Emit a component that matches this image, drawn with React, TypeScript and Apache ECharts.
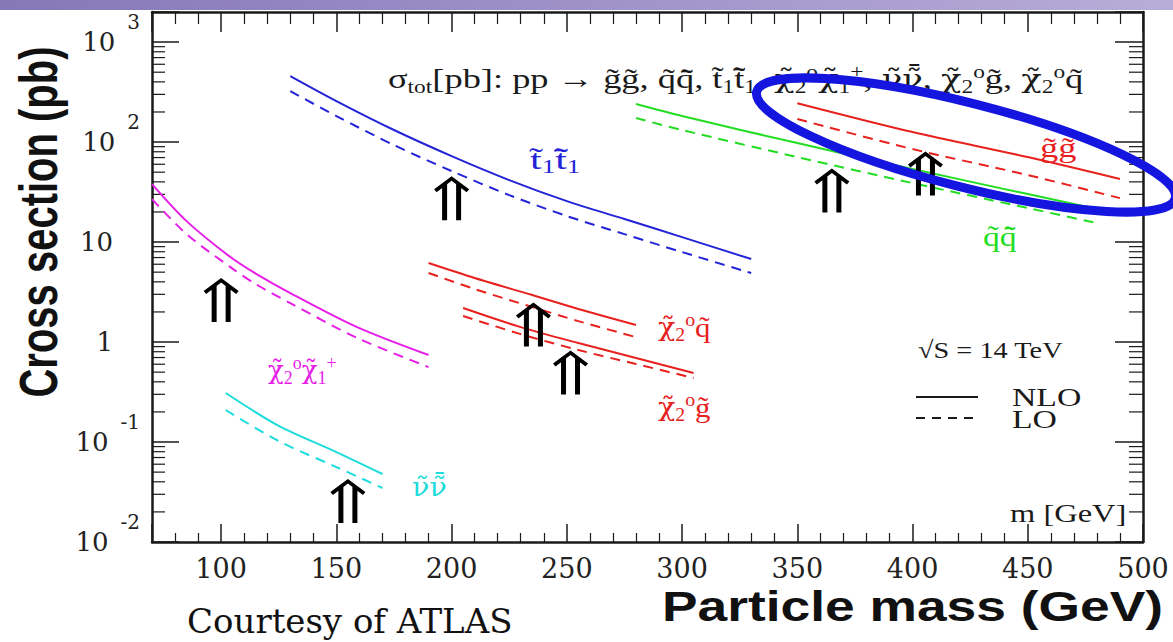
import React, { useEffect, useRef } from "react";
import * as echarts from "echarts";

// ---- axis ranges ----
const X_MIN = 70;
const X_MAX = 500;
const Y_MIN = 0.01;
const Y_MAX = 2000;

// ---- curves (mass in GeV, cross section in pb) ----
const stopMass = [130, 150, 175, 200, 225, 250, 275, 300, 330];
const stopNLO = [457, 257, 132, 72.4, 41.7, 25.7, 17.0, 11.2, 6.76];
const stopLO = [324, 182, 93.3, 51.3, 29.5, 18.2, 12.0, 7.94, 4.9];

const sqMass = [280, 300, 350, 400, 450, 480];
const sqNLO = [240, 182, 97.7, 53.7, 30.2, 21.4];
const sqLO = [174, 132, 70.8, 38.9, 21.9, 15.5];

const glMass = [350, 400, 450, 490];
const glNLO = [245, 126, 70.8, 42.7];
const glLO = [170, 85.1, 46.8, 27.5];

const c2c1Mass = [70, 85, 104, 115, 130, 159, 190];
const c2c1NLO = [38.0, 16.2, 7.08, 4.84, 3.09, 1.41, 0.741];
const c2c1LO = [26.9, 12.0, 5.62, 3.8, 2.45, 1.1, 0.562];

const snuMass = [102, 125, 150, 170];
const snuNLO = [0.309, 0.145, 0.0794, 0.0479];
const snuLO = [0.209, 0.102, 0.0562, 0.0347];

const c2sqMass = [190, 210, 235, 255, 280];
const c2sqNLO = [6.17, 4.37, 2.95, 2.14, 1.48];
const c2sqLO = [4.9, 3.39, 2.24, 1.62, 1.12];

const c2glMass = [205, 230, 255, 280, 305];
const c2glNLO = [2.19, 1.41, 0.977, 0.692, 0.49];
const c2glLO = [1.82, 1.2, 0.832, 0.603, 0.437];

// ---- mass-limit arrows ----
const arrowMass = [100, 200, 235.5, 251.6, 155, 365, 405.6];
const arrowValue = [2.63, 27.5, 1.5, 0.495, 0.0257, 32.7, 48.4];

// ---- log minor ticks ----
const minorDecades = [0.01, 0.1, 1, 10, 100];
const minorMultipliers = [2, 3, 4, 5, 6, 7, 8, 9];

const BLUE = "#2323d8";
const RED = "#e8201e";
const GREEN = "#22dd22";
const MAGENTA = "#e81ee8";
const CYAN = "#1edcdc";
const INK = "#1a1a1a";

const SERIF = "'Liberation Serif', 'DejaVu Serif', serif";
const DSERIF = "'DejaVu Serif', serif";

const ARROW_PATH =
  "path://M17.5 0 L35 13 L32.5 16 L17.5 4.5 L2.5 16 L0 13 Z M8 9 L13 5.5 L13 44 L8 44 Z M22 5.5 L27 9 L27 44 L22 44 Z";

function zip(xs: number[], ys: number[]) {
  return xs.map((x, i) => [x, ys[i]]);
}

function rt(parts: [string, string][]) {
  return parts.map(([k, t]) => `{${k}|${t}}`).join("");
}

function richSet(size: number) {
  const s = Math.round(size * 0.64);
  const pad = Math.round(size * 0.55);
  return {
    n: { fontSize: size, fontFamily: SERIF },
    g: { fontSize: Math.round(size * 0.92), fontFamily: DSERIF },
    sub: { fontSize: s, fontFamily: SERIF, padding: [pad, 0, 0, 0] },
    sup: { fontSize: s, fontFamily: SERIF, padding: [0, 0, pad, 0] },
  };
}

function label(
  text: string,
  x: number,
  y: number,
  color: string,
  size = 28,
  scaleX = 1.3
) {
  return {
    type: "text",
    x,
    y,
    scaleX,
    z: 20,
    style: {
      text,
      fill: color,
      fontSize: size,
      fontFamily: SERIF,
      textAlign: "left",
      textVerticalAlign: "middle",
      rich: richSet(size),
    },
  };
}

function curvePair(mass: number[], nlo: number[], lo: number[], color: string) {
  return [
    {
      type: "line",
      data: zip(mass, nlo),
      smooth: 0.3,
      showSymbol: false,
      lineStyle: { color, width: 2 },
      z: 5,
    },
    {
      type: "line",
      data: zip(mass, lo),
      smooth: 0.3,
      showSymbol: false,
      lineStyle: { color, width: 2, type: [10, 7] },
      z: 5,
    },
  ];
}

export default function App() {
  const ref = useRef<HTMLDivElement>(null);

  useEffect(() => {
    if (!ref.current) return;
    const chart = echarts.init(ref.current, null, { renderer: "svg" });

    const minorY: number[][] = [];
    minorDecades.forEach((d) =>
      minorMultipliers.forEach((m) => minorY.push([X_MIN, +(d * m).toPrecision(3)]))
    );

    const yFormatter = (v: number) => {
      const l = Math.log10(v);
      const e = Math.round(l);
      if (Math.abs(l - e) > 1e-6) return "";
      if (e === 1) return "{b|10}{p| }";
      if (e === 0) return "{b|1}{p| }";
      return `{b|10}{e|${e}}`;
    };

    const xAxisBase = {
      type: "value",
      min: X_MIN,
      max: X_MAX,
      splitNumber: 9,
      splitLine: { show: false },
      axisLine: { show: true, lineStyle: { color: INK, width: 2.5 } },
    };
    const yAxisBase = {
      type: "log",
      logBase: 10,
      min: Y_MIN,
      max: Y_MAX,
      splitLine: { show: false },
      axisLine: { show: true, lineStyle: { color: INK, width: 2.5 } },
    };

    const titleText = rt([
      ["n", "σ"],
      ["sub", "tot"],
      ["n", "[pb]: pp → g̃g̃, q̃q̃̄, t̃"],
      ["sub", "1"],
      ["n", "t̃̄"],
      ["sub", "1"],
      ["n", ", "],
      ["g", "χ̃"],
      ["sub", "2"],
      ["sup", "o"],
      ["g", "χ̃"],
      ["sub", "1"],
      ["sup", "+"],
      ["n", ", "],
      ["g", "ν̃ν̃̄"],
      ["n", ", "],
      ["g", "χ̃"],
      ["sub", "2"],
      ["sup", "o"],
      ["n", "g̃, "],
      ["g", "χ̃"],
      ["sub", "2"],
      ["sup", "o"],
      ["n", "q̃"],
    ]);

    const option: any = {
      animation: false,
      backgroundColor: "#ffffff",
      grid: { left: 152, right: 30, top: 12, bottom: 100, containLabel: false },
      xAxis: [
        {
          ...xAxisBase,
          position: "bottom",
          axisTick: { show: true, inside: true, length: 18, lineStyle: { color: INK, width: 1.5 } },
          minorTick: { show: true, splitNumber: 5, length: 9, lineStyle: { color: INK, width: 1.2 } },
          axisLabel: {
            show: true,
            margin: 13,
            fontSize: 27,
            fontFamily: DSERIF,
            color: "#222",
            showMinLabel: false,
          },
        },
        {
          ...xAxisBase,
          position: "top",
          axisTick: { show: true, inside: true, length: 20, lineStyle: { color: INK, width: 1.5 } },
          minorTick: { show: true, splitNumber: 5, length: 12, lineStyle: { color: INK, width: 1.2 } },
          axisLabel: { show: false },
        },
      ],
      yAxis: [
        {
          ...yAxisBase,
          position: "left",
          axisTick: { show: true, inside: true, length: 27, lineStyle: { color: INK, width: 1.5 } },
          axisLabel: {
            show: true,
            margin: 12,
            formatter: yFormatter,
            color: "#222",
            rich: {
              b: { fontSize: 26, fontFamily: DSERIF, color: "#222" },
              e: { fontSize: 20, fontFamily: DSERIF, color: "#222", padding: [0, 0, 40, 12] },
              p: { fontSize: 20, width: 27 },
            },
          },
        },
        {
          ...yAxisBase,
          position: "right",
          axisTick: { show: true, inside: true, length: 28, lineStyle: { color: INK, width: 1.5 } },
          axisLabel: { show: false },
        },
      ],
      series: [
        ...curvePair(stopMass, stopNLO, stopLO, BLUE),
        ...curvePair(sqMass, sqNLO, sqLO, GREEN),
        ...curvePair(glMass, glNLO, glLO, RED),
        ...curvePair(c2c1Mass, c2c1NLO, c2c1LO, MAGENTA),
        ...curvePair(snuMass, snuNLO, snuLO, CYAN),
        ...curvePair(c2sqMass, c2sqNLO, c2sqLO, RED),
        ...curvePair(c2glMass, c2glNLO, c2glLO, RED),
        {
          type: "scatter",
          data: zip(arrowMass, arrowValue),
          symbol: ARROW_PATH,
          symbolSize: [35, 44],
          symbolKeepAspect: false,
          itemStyle: { color: "#000", opacity: 1 },
          z: 8,
        },
        {
          type: "custom",
          data: minorY,
          clip: false,
          z: 3,
          renderItem: (_p: any, api: any) => {
            const v = api.value(1);
            const l = api.coord([X_MIN, v]);
            const r = api.coord([X_MAX, v]);
            return {
              type: "group",
              children: [
                {
                  type: "line",
                  shape: { x1: l[0], y1: l[1], x2: l[0] + 13, y2: l[1] },
                  style: { stroke: INK, lineWidth: 1.2 },
                },
                {
                  type: "line",
                  shape: { x1: r[0] - 14, y1: r[1], x2: r[0], y2: r[1] },
                  style: { stroke: INK, lineWidth: 1.2 },
                },
              ],
            };
          },
        },
      ],
      graphic: [
        {
          type: "rect",
          shape: { x: 0, y: 0, width: 1173, height: 10 },
          style: {
            fill: new echarts.graphic.LinearGradient(0, 0, 1, 0, [
              { offset: 0, color: "#8677b8" },
              { offset: 1, color: "#b8acd8" },
            ]),
          },
          z: 1,
        },
        {
          type: "text",
          x: 38,
          y: 222,
          rotation: Math.PI / 2,
          scaleX: 1.0,
          scaleY: 1.35,
          style: {
            text: "Cross section (pb)",
            fill: "#111",
            fontSize: 40,
            fontWeight: "bold",
            fontFamily: "'Liberation Sans', Arial, sans-serif",
            textAlign: "center",
            textVerticalAlign: "middle",
          },
        },
        {
          type: "text",
          x: 662,
          y: 607,
          scaleX: 1.27,
          style: {
            text: "Particle mass (GeV)",
            fill: "#111",
            fontSize: 42,
            fontWeight: "bold",
            fontFamily: "'Liberation Sans', Arial, sans-serif",
            textAlign: "left",
            textVerticalAlign: "middle",
          },
        },
        {
          type: "text",
          x: 187,
          y: 621,
          style: {
            text: "Courtesy of ATLAS",
            fill: "#111",
            fontSize: 34,
            fontFamily: DSERIF,
            textAlign: "left",
            textVerticalAlign: "middle",
          },
        },
        label(titleText, 388, 79, INK, 28, 1.3),
        label(rt([["n", "t̃"], ["sub", "1"], ["n", "t̃̄"], ["sub", "1"]]), 530, 160, BLUE, 28, 1.5),
        label(rt([["n", "g̃g̃"]]), 1040, 148, RED, 28, 1.3),
        label(rt([["n", "q̃q̃̄"]]), 983, 236, GREEN, 28, 1.2),
        label(rt([["g", "χ̃"], ["sub", "2"], ["sup", "o"], ["n", "q̃"]]), 658, 327, RED, 28, 1.1),
        label(rt([["g", "χ̃"], ["sub", "2"], ["sup", "o"], ["n", "g̃"]]), 658, 407, RED, 28, 1.1),
        label(
          rt([["g", "χ̃"], ["sub", "2"], ["sup", "o"], ["g", "χ̃"], ["sub", "1"], ["sup", "+"]]),
          268,
          370,
          MAGENTA,
          28,
          1.0
        ),
        label(rt([["g", "ν̃ν̃̄"]]), 412, 487, CYAN, 28, 1.1),
        label(rt([["n", "√S = 14 TeV"]]), 918, 350, INK, 24, 1.18),
        label(rt([["n", "NLO"]]), 1012, 398, INK, 25, 1.35),
        label(rt([["n", "LO"]]), 1012, 420, INK, 25, 1.35),
        label(rt([["n", "m [GeV]"]]), 1010, 513, INK, 25, 1.3),
        {
          type: "line",
          shape: { x1: 916, y1: 397, x2: 978, y2: 397 },
          style: { stroke: INK, lineWidth: 2 },
          z: 20,
        },
        {
          type: "line",
          shape: { x1: 916, y1: 418, x2: 978, y2: 418 },
          style: { stroke: INK, lineWidth: 2, lineDash: [9, 7] },
          z: 20,
        },
        {
          type: "ellipse",
          x: 966,
          y: 145,
          rotation: -0.25,
          shape: { cx: 0, cy: 0, rx: 216, ry: 42 },
          style: { fill: "none", stroke: "#1515e0", lineWidth: 9 },
          z: 30,
        },
      ],
    };

    chart.setOption(option);
    return () => chart.dispose();
  }, []);

  return (
    <div
      ref={ref}
      style={{ position: "absolute", left: 0, top: 0, width: 1173, height: 642, background: "#fff" }}
    />
  );
}
